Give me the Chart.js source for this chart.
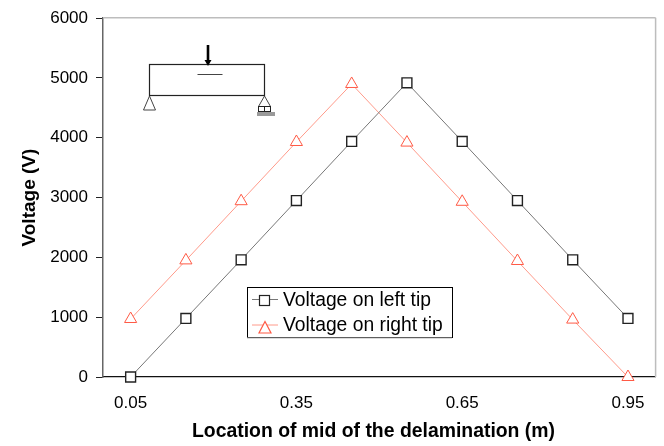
<!DOCTYPE html>
<html><head><meta charset="utf-8">
<style>html,body{margin:0;padding:0;background:#fff}canvas{display:block}</style>
<script src="https://cdn.jsdelivr.net/npm/chart.js@4/dist/chart.umd.min.js"></script>
</head><body><canvas id="c" width="664" height="446"></canvas>
<script>
const categories = ['0.05','0.15','0.25','0.35','0.45','0.55','0.65','0.75','0.85','0.95'];
const shownLabels = ['0.05','0.35','0.65','0.95'];
const leftTip  = [0,980,1960,2950,3940,4920,3940,2950,1960,980];
const rightTip = [970,1950,2940,3930,4900,3920,2930,1940,960,0];
const seriesNames = ['Voltage on left tip','Voltage on right tip'];
const xTitle = 'Location of mid of the delamination (m)';
const yTitle = 'Voltage (V)';
const FONT = '"Liberation Sans", Arial, sans-serif';

function line(ctx,x1,y1,x2,y2,color,w){ctx.strokeStyle=color;ctx.lineWidth=w;ctx.beginPath();ctx.moveTo(x1,y1);ctx.lineTo(x2,y2);ctx.stroke();}

const decorations = {
  id:'decorations',
  beforeDatasetsDraw(chart){
    const {ctx,chartArea:a}=chart;
    ctx.save();
    line(ctx,a.left,a.top-.5,a.right,a.top-.5,'#bdbdbd',1.5);
    line(ctx,a.right,a.top-.5,a.right,a.bottom,'#bdbdbd',1.5);
    ctx.restore();
  },
  afterDraw(chart){
    const {ctx}=chart;
    ctx.save();
    // x title
    ctx.fillStyle='#000';ctx.font='bold 19.4px '+FONT;ctx.textAlign='center';ctx.textBaseline='middle';
    ctx.fillText(xTitle,373.5,432);
    // beam schematic
    ctx.strokeStyle='#222';ctx.lineWidth=1.2;ctx.strokeRect(149.5,64.5,115,31);
    line(ctx,197.5,74.5,222.5,74.5,'#444',1);
    line(ctx,208,45,208,62,'#000',2.6);
    ctx.fillStyle='#000';ctx.beginPath();ctx.moveTo(204.5,60);ctx.lineTo(211.5,60);ctx.lineTo(208,66);ctx.closePath();ctx.fill();
    const tri=(x,yTop,yBase)=>{ctx.strokeStyle='#444';ctx.lineWidth=1;ctx.beginPath();ctx.moveTo(x,yTop);ctx.lineTo(x-6,yBase);ctx.lineTo(x+6,yBase);ctx.closePath();ctx.stroke();};
    tri(149.5,96,110);tri(264.5,96,106.5);
    ctx.strokeStyle='#222';ctx.strokeRect(258.5,106.5,12,5);
    line(ctx,264.5,106.5,264.5,111.5,'#222',1);
    ctx.fillStyle='#9a9a9a';ctx.fillRect(257,112,18,4);
    // legend
    const lx=247,ly=287,lw=205,lh=50;
    ctx.fillStyle='#fff';ctx.fillRect(lx,ly,lw,lh);
    ctx.strokeStyle='#000';ctx.lineWidth=1;ctx.strokeRect(lx+.5,ly+.5,lw,lh);
    line(ctx,lx,ly+lh+.8,lx+lw,ly+lh+.8,'#888',1);
    ctx.textAlign='left';ctx.font='19.3px '+FONT;ctx.fillStyle='#000';
    const rows=[300,325.5];
    chart.data.datasets.forEach((d,i)=>{
      const y=rows[i];
      line(ctx,252,y-.5,278,y-.5,d.borderColor,1);
      ctx.fillStyle='#fff';ctx.strokeStyle=d.pointBorderColor;ctx.lineWidth=1.2;
      if(i===0){ctx.fillRect(259.5,295.5,10,10);ctx.strokeRect(259.5,295.5,10,10);}
      else{ctx.beginPath();ctx.moveTo(265,321.5);ctx.lineTo(259,333);ctx.lineTo(271,333);ctx.closePath();ctx.fill();ctx.stroke();}
      ctx.fillStyle='#000';ctx.fillText(d.label,283,y+.5);
    });
    ctx.restore();
  }
};

new Chart(document.getElementById('c'),{
  type:'line',
  data:{labels:categories,datasets:[
    {label:seriesNames[0],data:leftTip,clip:false,borderColor:'#777',borderWidth:1,pointStyle:'rect',pointRadius:7,pointHoverRadius:7,pointBackgroundColor:'#fff',pointBorderColor:'#222',pointBorderWidth:1.4,tension:0},
    {label:seriesNames[1],data:rightTip,clip:false,borderColor:'#ff9a8a',borderWidth:1,pointStyle:'triangle',pointRadius:7,pointHoverRadius:7,pointBackgroundColor:'#fff',pointBorderColor:'#ff5a45',pointBorderWidth:1,tension:0}
  ]},
  options:{
    responsive:false,animation:false,
    layout:{padding:{top:18,right:8,bottom:0,left:0}},
    plugins:{legend:{display:false},tooltip:{enabled:false},title:{display:false}},
    scales:{
      x:{type:'category',offset:true,
        afterFit(s){s.height=69;},
        grid:{display:true,drawOnChartArea:false,drawTicks:false},
        border:{color:'#111',width:1.2},
        ticks:{autoSkip:false,maxRotation:0,padding:16,color:'#000',font:{family:FONT,size:17},
          callback(v){const l=this.getLabelForValue(v);return shownLabels.includes(l)?l:'';}}
      },
      y:{min:0,max:6000,
        afterFit(s){s.width=103;},
        title:{display:true,text:yTitle,color:'#000',font:{family:FONT,size:19,weight:'bold'},padding:{top:18,bottom:0}},
        grid:{drawOnChartArea:false,tickLength:7,tickColor:'#222',tickWidth:1},
        border:{color:'#666',width:1.5},
        ticks:{stepSize:1000,padding:8,color:'#000',font:{family:FONT,size:17},callback(v){return String(v);}}
      }
    }
  },
  plugins:[decorations]
});
</script></body></html>
